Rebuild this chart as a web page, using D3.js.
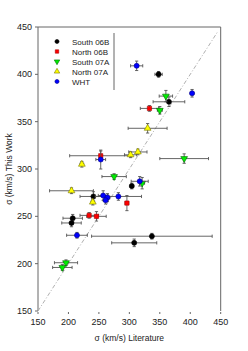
<!DOCTYPE html>
<html>
<head>
<meta charset="utf-8">
<script src="https://cdn.jsdelivr.net/npm/d3@7"></script>
<style>
  body { margin: 0; background: #fff; }
  text { font-family: "Liberation Sans", Arial, sans-serif; fill: #222; }
</style>
</head>
<body>
<div id="chart"></div>
<script>
// series data: [literature sigma, this-work sigma, x error, y error]
var south06B = [[348,400,6,3],[365,371,26,5],[304,282,3,3],[241,271,22,5],[337,229,99,3],
                [308,222,37,4],[207,248,16,4],[205,243,16,4]];
var north06B = [[333,364,15,3],[253,314,51,5],[296,264,3,8],[234,251,15,3],[246,250,16,5]];
var south07A = [[360,377,11,6],[350,362,4,4],[390,311,40,5],[275,292,20,3],[321,285,4,6],
                [196,201,19,3],[190,196,16,3]];
var north07A = [[330,343,32,5],[314,318,15,3],[302,315,10,3],[222,305,3,3],[205,277,36,3],[240,265,3,3]];
var wht      = [[312,409,10,5],[403,380,3,4],[253,310,8,10],[257,272,8,5],[264,270,4,4],
                [261,267,4,4],[282,271,38,4],[317,287,14,5],[214,230,17,3]];

var seriesNames = ['South 06B','North 06B','South 07A','North 07A','WHT'];
var seriesData = [south06B, north06B, south07A, north07A, wht];
var fills = ['#000000','#ff0000','#00ee00','#ffff00','#0000ff'];
var strokes = ['#000000','#aa0000','#006600','#777700','#000088'];
var shapes = [d3.symbolCircle, d3.symbolSquare, 'down', d3.symbolTriangle, d3.symbolCircle];

var xTicks = [150,200,250,300,350,400,450];
var yTicks = [150,200,250,300,350,400,450];

var width = 248, height = 351;
var pLeft = 38, pRight = 220.7, pTop = 27, pBottom = 311;

var svg = d3.select('#chart').append('svg')
  .attr('width', width)
  .attr('height', height);

var x = d3.scaleLinear().domain([150,450]).range([pLeft,pRight]);
var y = d3.scaleLinear().domain([150,450]).range([pBottom,pTop]);

var axisColor = '#666';

// frame: left, top, right (no bottom line in the original)
svg.append('path')
  .attr('d', 'M'+pLeft+' '+pBottom+' L'+pLeft+' '+pTop+' L'+pRight+' '+pTop+' L'+pRight+' '+pBottom)
  .attr('fill','none').attr('stroke',axisColor).attr('stroke-width',1);

// y ticks
yTicks.forEach(function(t){
  svg.append('line').attr('x1',pLeft-3).attr('x2',pLeft).attr('y1',y(t)).attr('y2',y(t))
    .attr('stroke',axisColor);
  svg.append('text').attr('x',pLeft-6).attr('y',y(t)+3).attr('text-anchor','end')
    .attr('font-size',9).text(t);
});
// x ticks
xTicks.forEach(function(t){
  svg.append('line').attr('x1',x(t)).attr('x2',x(t)).attr('y1',pBottom+1).attr('y2',pBottom+3)
    .attr('stroke',axisColor);
  svg.append('text').attr('x',x(t)).attr('y',pBottom+14).attr('text-anchor','middle')
    .attr('font-size',9).text(t);
});

svg.append('text').attr('x',(pLeft+pRight)/2).attr('y',341).attr('text-anchor','middle')
  .attr('font-size',8.5).text('σ (km/s) Literature');
svg.append('text').attr('transform','translate(12,'+((pTop+pBottom)/2)+') rotate(-90)')
  .attr('text-anchor','middle').attr('font-size',8.5).text('σ (km/s) This Work');

// one-to-one line
svg.append('line')
  .attr('x1',x(150)).attr('y1',y(150)).attr('x2',x(445)).attr('y2',y(445))
  .attr('stroke','#b0b0b0').attr('stroke-width',1).attr('stroke-dasharray','4,2,1,2');

function marker(g, i, cx, cy, sz) {
  if (shapes[i] === 'down') {
    g.append('path').attr('d', d3.symbol().type(d3.symbolTriangle).size(sz)())
      .attr('transform','translate('+cx+','+cy+') rotate(180)')
      .attr('fill',fills[i]).attr('stroke',strokes[i]).attr('stroke-width',0.6);
  } else {
    g.append('path').attr('d', d3.symbol().type(shapes[i]).size(shapes[i]===d3.symbolSquare?sz*0.9:sz)())
      .attr('transform','translate('+cx+','+cy+')')
      .attr('fill',fills[i]).attr('stroke',strokes[i]).attr('stroke-width',0.6);
  }
}

var errColor = '#555', cap = 1.6;
seriesData.forEach(function(data, i){
  var g = svg.append('g').attr('stroke-width',0.9);
  data.forEach(function(d){
    var cx = x(d[0]), cy = y(d[1]);
    var x0 = x(d[0]-d[2]), x1 = x(d[0]+d[2]);
    var y0 = y(d[1]-d[3]), y1 = y(d[1]+d[3]);
    g.append('line').attr('x1',x0).attr('x2',x1).attr('y1',cy).attr('y2',cy).attr('stroke',errColor);
    g.append('line').attr('x1',x0).attr('x2',x0).attr('y1',cy-cap).attr('y2',cy+cap).attr('stroke',errColor);
    g.append('line').attr('x1',x1).attr('x2',x1).attr('y1',cy-cap).attr('y2',cy+cap).attr('stroke',errColor);
    g.append('line').attr('x1',cx).attr('x2',cx).attr('y1',y0).attr('y2',y1).attr('stroke',errColor);
    g.append('line').attr('x1',cx-cap).attr('x2',cx+cap).attr('y1',y0).attr('y2',y0).attr('stroke',errColor);
    g.append('line').attr('x1',cx-cap).attr('x2',cx+cap).attr('y1',y1).attr('y2',y1).attr('stroke',errColor);
  });
  data.forEach(function(d){ marker(g, i, x(d[0]), y(d[1]), 20); });
});

// legend
var lg = svg.append('g');
seriesNames.forEach(function(name, i){
  var ly = 41.5 + i*10;
  marker(lg, i, 57, ly, 13);
  lg.append('text').attr('x',72).attr('y',ly+3).attr('font-size',8).text(name);
});
lg.append('line').attr('x1',114).attr('x2',114).attr('y1',33).attr('y2',90)
  .attr('stroke',axisColor);
</script>
</body>
</html>
